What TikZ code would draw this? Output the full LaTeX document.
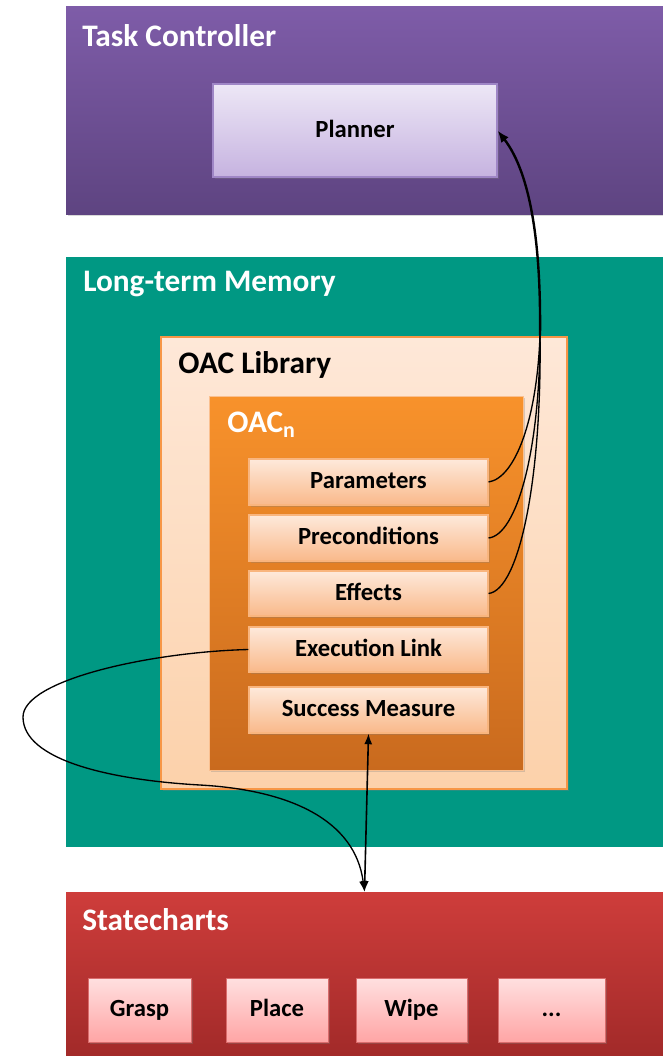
\documentclass[tikz,border=0pt]{standalone}
\usepackage{fontspec}
\setmainfont{Carlito}
\usetikzlibrary{shadows,arrows.meta,fit}
\definecolor{tcTop}{HTML}{7E5CA8}
\definecolor{tcBot}{HTML}{5E4481}
\definecolor{plTop}{HTML}{EDE7F6}
\definecolor{plBot}{HTML}{C6B3E0}
\definecolor{plLine}{HTML}{9F86C6}
\definecolor{ltmFill}{HTML}{009883}
\definecolor{libTop}{HTML}{FEE8D8}
\definecolor{libBot}{HTML}{FCD1AA}
\definecolor{orLine}{HTML}{F79646}
\definecolor{oacTop}{HTML}{F8922B}
\definecolor{oacBot}{HTML}{C96A1E}
\definecolor{itTop}{HTML}{FEE9DB}
\definecolor{itBot}{HTML}{F9B98A}
\definecolor{scTop}{HTML}{CE3D3B}
\definecolor{scBot}{HTML}{A22A29}
\definecolor{stTop}{HTML}{FFE0E0}
\definecolor{stBot}{HTML}{FFA5A5}
\definecolor{stLine}{HTML}{D96C6C}
\begin{document}
\begin{tikzpicture}[x=0.75pt,y=-0.75pt,
  panel/.style={inner sep=0pt, draw=none},
  shd/.style={drop shadow={opacity=0.3, shadow xshift=1.2pt, shadow yshift=-1.2pt}},
  title/.style={anchor=west, inner sep=0pt, font=\bfseries\fontsize{23.5}{27}\selectfont},
  itembox/.style={inner sep=0pt, shd, draw=orLine!70, line width=0.8pt, top color=itTop, bottom color=itBot},
  itemtext/.style={inner sep=0pt, text height=12.5pt, text depth=2.5pt, font=\bfseries\fontsize{18.5}{22}\selectfont},
  statebox/.style={inner sep=0pt, shd, draw=stLine, line width=0.6pt, top color=stTop, bottom color=stBot},
  conn/.style={draw=black, line width=1pt}
]
\useasboundingbox (0,0) rectangle (663,1056);
% Task controller
\node[panel, shd, top color=tcTop, bottom color=tcBot, fit={(66,7) (663,214)}] (tc) {};
\node[title, text=white] (tct) at (82,36) {Task Controller};
\node[panel, shd, draw=plLine, line width=0.8pt, top color=plTop, bottom color=plBot, fit={(213,84) (497,177)}] (pl) {};
\node[itemtext] (plt) at (pl.center) {Planner};
% Long-term memory
\node[panel, fill=ltmFill, fit={(66,257) (663,847)}] (ltm) {};
\node[title, text=white] (ltmt) at (83,284) {Long-term Memory};
\node[panel, shd, draw=orLine, line width=0.8pt, top color=libTop, bottom color=libBot, fit={(161,337) (567,789)}] (lib) {};
\node[title, text=black] (libt) at (178,365) {OAC Library};
\node[panel, shd, draw=orLine!60, line width=0.6pt, top color=oacTop, bottom color=oacBot, fit={(209,396) (523,770)}] (oac) {};
\node[title, text=white] (oact) at (227,425) {OAC\textsubscript{n}};
\node[itembox, fit={(249,459) (488,505)}] (par) {};
\node[itemtext] at (par.center) {Parameters};
\node[itembox, fit={(249,515) (488,561)}] (pre) {};
\node[itemtext] at (pre.center) {Preconditions};
\node[itembox, fit={(249,571) (488,616)}] (eff) {};
\node[itemtext] at (eff.center) {Effects};
\node[itembox, fit={(249,627) (488,672)}] (ex) {};
\node[itemtext] at (ex.center) {Execution Link};
\node[itembox, fit={(249,687) (488,733)}] (sm) {};
\node[itemtext] at (sm.center) {Success Measure};
% Statecharts
\node[panel, top color=scTop, bottom color=scBot, fit={(66,892) (663,1056)}] (sc) {};
\node[title, text=white] (sct) at (82,920) {Statecharts};
\node[statebox, fit={(88,978) (191,1042)}] (g) {};
\node[itemtext] at (g.center) {Grasp};
\node[statebox, fit={(226,978) (328,1042)}] (p) {};
\node[itemtext] at (p.center) {Place};
\node[statebox, fit={(356,978) (467,1042)}] (w) {};
\node[itemtext] at (w.center) {Wipe};
\node[statebox, fit={(498,978) (605,1042)}] (d) {};
\node[itemtext] at (d.center) {...};
% connectors
\coordinate (m) at (540,335);
\draw[conn] (par.east) .. controls (515,478) and (537,420) .. (m);
\draw[conn] (pre.east) .. controls (517,535) and (540,450) .. (m);
\draw[conn] (eff.east) .. controls (519,590) and (542,480) .. (m);
\draw[conn, line width=1.8pt, -{Latex[length=9pt,width=7pt]}] (m) .. controls (541,250) and (532,175) .. (pl.east);
\draw[conn, -{Latex[length=8pt,width=6pt]}] (ex.west) .. controls (150,652) and (23,680) .. (23,717) .. controls (23,760) and (110,780) .. (200,785) .. controls (290,790) and (355,820) .. (sc.north);
\draw[conn, line width=1.2pt, {Latex[length=8pt,width=6pt]}-{Latex[length=8pt,width=6pt]}] (sm.south) -- (sc.north);
\end{tikzpicture}
\end{document}
